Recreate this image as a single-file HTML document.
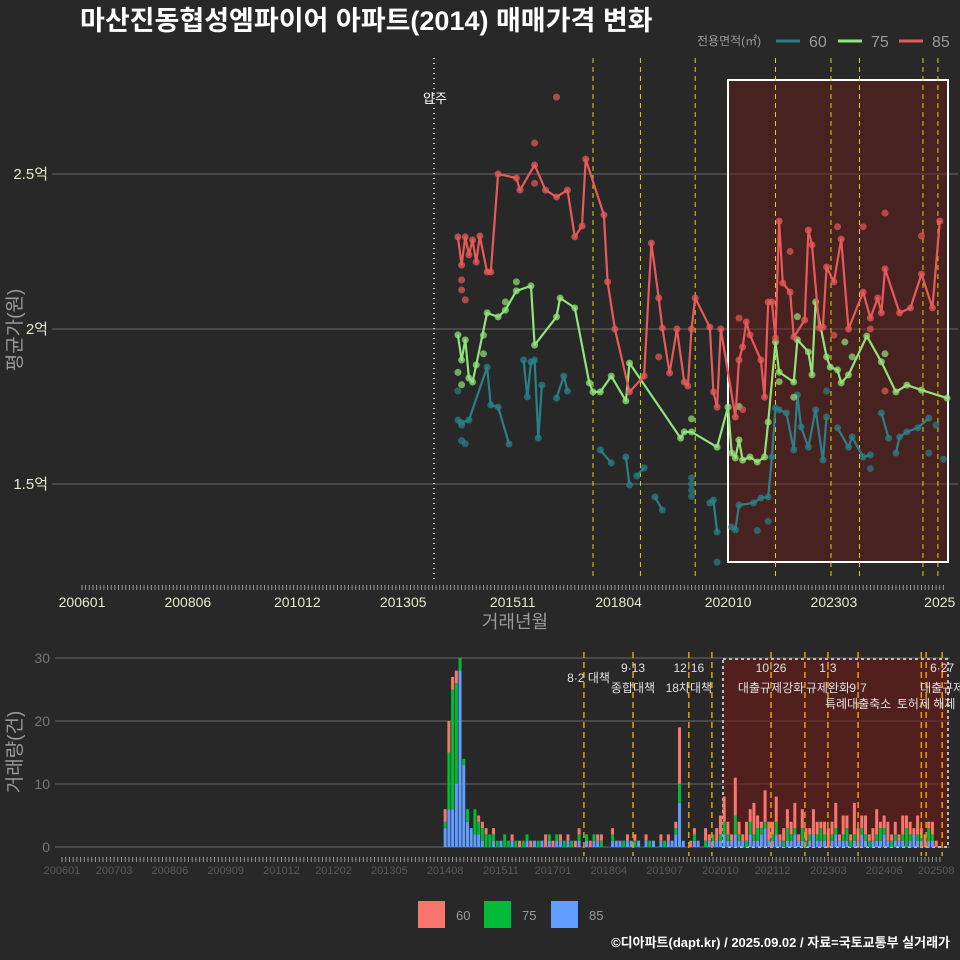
<!DOCTYPE html>
<html><head><meta charset="utf-8">
<style>
html,body{margin:0;padding:0;background:#282828;}
svg{display:block;font-family:"Liberation Sans","Noto Sans CJK KR",sans-serif;}
</style></head>
<body>
<svg id="chart" width="960" height="960" viewBox="0 0 960 960" xmlns="http://www.w3.org/2000/svg">
<rect x="0" y="0" width="960" height="960" fill="#282828"/>
<text x="80" y="30" fill="#ffffff" font-size="27" font-weight="bold">마산진동협성엠파이어 아파트(2014) 매매가격 변화</text>
<g>
<text x="697" y="45" fill="#9a9a9a" font-size="12">전용면적(㎡)</text>
<line x1="776" y1="41" x2="800" y2="41" stroke="#2a8088" stroke-width="3"/>
<text x="809" y="47" fill="#9a9a9a" font-size="16">60</text>
<line x1="838" y1="41" x2="862" y2="41" stroke="#90e47a" stroke-width="3"/>
<text x="871" y="47" fill="#9a9a9a" font-size="16">75</text>
<line x1="899" y1="41" x2="923" y2="41" stroke="#e85a5a" stroke-width="3"/>
<text x="932" y="47" fill="#9a9a9a" font-size="16">85</text>
</g>
<g id="topPanel"></g>
<g id="botPanel"></g>
<g>
<rect x="418" y="901" width="27" height="27" fill="#F8766D"/>
<text x="456" y="920" fill="#9a9a9a" font-size="13">60</text>
<rect x="484" y="901" width="27" height="27" fill="#00BA38"/>
<text x="522" y="920" fill="#9a9a9a" font-size="13">75</text>
<rect x="551" y="901" width="27" height="27" fill="#619CFF"/>
<text x="589" y="920" fill="#9a9a9a" font-size="13">85</text>
</g>
<text x="950" y="947" text-anchor="end" fill="#ffffff" font-size="13" font-weight="bold">©디아파트(dapt.kr) / 2025.09.02 / 자료=국토교통부 실거래가</text>
</svg>
<script>
// months are indices since 2006-01
const topTickMonths = [0,29,59,88,118,147,177,206,235];
const topTickLabels = ["200601","200806","201012","201305","201511","201804","202010","202303","2025"];
const botTickMonths = [0,14,29,44,59,73,88,103,118,132,147,162,177,191,206,221,235];
const botTickLabels = ["200601","200703","200806","200909","201012","201202","201305","201408","201511","201701","201804","201907","202010","202112","202303","202406","202508"];
const priceTicks = [1.5,2,2.5];
const priceTickLabels = ["1.5억","2억","2.5억"];
const volTicks = [0,10,20,30];

const m85 = [103,104,105,106,107,108,109,111,112,114,119,120,124,127,130,133,135,137,138,143,144,146,150,154,156,158,159,161,163,165,166,167,168,172,173,174,175,179,180,181,182,183,186,187,188,189,190,191,192,194,195,198,199,200,202,203,204,206,208,210,214,216,218,219,220,224,227,230,233,235];
const v85 = [2.297,2.206,2.297,2.239,2.287,2.216,2.30,2.184,2.184,2.50,2.487,2.448,2.529,2.448,2.426,2.448,2.297,2.332,2.548,2.368,2.152,2.0,1.797,1.848,2.277,2.10,2.003,1.858,2.0,1.829,1.816,2.0,2.10,2.006,1.797,1.748,2.0,1.716,1.90,1.942,2.023,1.981,1.90,1.78,2.087,2.087,1.971,2.348,2.148,2.119,1.974,2.029,2.319,2.271,2.003,2.006,2.20,2.152,2.29,2.0,2.119,2.035,2.10,2.052,2.194,2.052,2.068,2.177,2.068,2.348];
const m85extra = [130,124,124,104,104,105,158,220,214,207,194,180,181,206,216,230,220];
const v85extra = [2.748,2.60,2.47,2.158,2.126,2.094,1.91,2.374,2.33,2.33,2.25,2.035,1.74,1.98,2.0,2.30,1.80];

const m75 = [103,104,105,106,107,108,111,114,116,119,123,124,130,131,135,139,140,142,145,149,150,164,165,167,174,177,178,179,180,181,183,185,187,188,190,191,195,196,199,200,201,204,205,207,208,210,215,219,223,226,230,237];
const v75 = [1.981,1.90,1.965,1.842,1.829,1.884,2.052,2.039,2.061,2.123,2.139,1.948,2.039,2.10,2.068,1.826,1.797,1.797,1.848,1.768,1.89,1.648,1.668,1.668,1.619,1.748,1.60,1.584,1.642,1.577,1.587,1.571,1.587,1.70,1.958,1.861,1.829,1.965,1.926,1.852,2.087,1.91,1.877,1.868,1.826,1.852,1.977,1.894,1.797,1.819,1.803,1.777];
const m75extra = [119,116,110,110,104,103,196,209,211,220,167,180,195,191];
const v75extra = [2.152,2.087,1.98,1.92,1.82,1.86,2.04,1.958,1.91,1.92,1.71,1.75,1.78,1.83];

// null separates line segments
const m60 = [103,104,106,111,112,114,117,null,121,122,123,124,125,126,null,130,132,133,null,142,145,null,149,150,null,152,154,null,157,159,null,172,173,174,null,178,179,180,184,186,188,189,190,191,193,195,196,197,199,201,203,204,null,207,210,211,214,216,null,219,221,null,223,224,226,229,232];
const v60 = [1.706,1.697,1.706,1.877,1.755,1.748,1.629,null,1.90,1.781,1.894,1.90,1.648,1.819,null,1.777,1.848,1.80,null,1.61,1.568,null,1.587,1.497,null,1.526,1.552,null,1.458,1.416,null,1.439,1.448,1.345,null,1.361,1.352,1.432,1.439,1.455,1.458,1.587,1.745,1.739,1.729,1.61,1.787,1.684,1.619,1.739,1.577,1.716,null,1.681,1.619,1.652,1.587,1.594,null,1.729,1.648,null,1.60,1.652,1.668,1.681,1.713];
const m60extra = [167,167,167,167,174,103,104,104,105,232,234,236,204,216,188,185];
const v60extra = [1.52,1.50,1.48,1.46,1.248,1.80,1.69,1.64,1.63,1.60,1.69,1.58,1.80,1.55,1.38,1.35];

const volStart = 103;
const vol85 = [3,6,6,10,28,13,4,3,2,2,1,0,0,1,0,1,0, 0,1,0,0,0,1,0,1,0,1,0,1,0,1,1,0, 1,0,0,1,0,1,0,1,1,0,0,0,1,1,1, 0,1,1,0,1,0,1,0,1,0,1,0,1,1,2, 7, 1,0,0,1,1,0,0,1,1,1,
1,2,1,1,2,1,1,0,2,1, 1,2,3,1,1,2,1,0,1,1, 2,1,1,0,1,2,1,1,1,0, 1,2,1,1,1,0,1,1,2,1, 0,1,1,1,2,1,0,1,1,1, 0,1,2,1,1,0,1,1,0];
const vol75 = [1,9,19,16,2,1,2,0,4,2,2,2,2,1,1,0,2, 1,0,1,0,1,1,0,0,1,0,0,1,0,1,0,1, 0,1,0,1,0,1,0,1,0,1,0,0,1,0,0, 1,0,0,1,0,0,0,1,0,0,0,1,0,0,1, 3, 0,0,0,1,0,0,1,0,1,0,
1,2,1,0,3,1,0,1,2,1, 2,1,1,0,1,2,0,1,2,1, 1,0,2,1,1,0,1,2,1,0, 1,1,0,1,2,1,1,0,1,1, 1,0,1,2,1,0,1,1,0,1, 3,1,0,1,1,0,2,1,0];
const vol60 = [2,5,2,2,0,0,0,0,0,1,1,1,0,1,0,0,0, 0,1,0,1,0,0,1,0,0,0,2,0,1,0,1,0, 1,0,1,1,0,0,1,0,1,1,0,0,1,0,0, 0,1,0,1,0,0,1,0,0,0,1,0,1,0,1, 9, 0,0,1,1,0,0,2,1,0,2,
3,4,2,1,6,2,1,3,2,5, 2,1,5,3,2,4,1,2,3,2, 4,1,3,2,1,4,2,1,2,3, 2,4,1,3,2,1,5,2,2,3, 1,2,4,1,2,3,1,2,1,3, 2,2,1,3,1,2,1,2,1];

const topEvents = [140,153,168,190,205.2,213,230.4,234.5];
const botEvents = [140.3,153.5,168.5,174.7,190.6,199.7,205.9,214,231,232.3,236.6];
const eventMonths = [140.3,153.5,153.5,168.5,168.5,190.6,190.6,205.9,205.9,214,214,232.3,236.6,236.6];
const eventRows = [1,0,1,0,1,0,1,0,1,1,2,2,0,1];
const eventTexts = ["8·2 대책","9·13","종합대책","12·16","18차대책","10·26","대출규제강화","1·3","규제완화","9·7","특례대출축소","토허제 해제","6·27","대출규제"];

const NS="http://www.w3.org/2000/svg";
function mk(parent,tag,attrs,txt){const e=document.createElementNS(NS,tag);for(const k in attrs)e.setAttribute(k,attrs[k]);if(txt!==undefined)e.textContent=txt;parent.appendChild(e);return e;}
const xT = m => 82 + m*3.65;
const yT = v => 329 - (v-2)*310;
const xB = m => 62 + m*3.72;
const yB = c => 847 - c*6.3;

const topG=document.getElementById('topPanel');
priceTicks.forEach((p,i)=>{
 const g=mk(topG,'line',{x1:52,x2:958,y1:yT(p),y2:yT(p),stroke:'#6a6a6a','stroke-width':1});
 
 
 const t=mk(topG,'text',{x:48,y:yT(p)+5,'text-anchor':'end',fill:'#e8e8c8','font-size':15},priceTickLabels[i]);
 
 
});
const box=mk(topG,'rect',{x:728,y:80,width:220,height:482,fill:'rgba(110,25,25,0.45)',stroke:'#ffffff','stroke-width':2});


const ml=mk(topG,'line',{x1:434,x2:434,y1:58,y2:580,stroke:'#cccccc','stroke-width':2,'stroke-dasharray':'1 4'});


const mlt=mk(topG,'text',{x:435,y:103,'text-anchor':'middle',fill:'#ffffff','font-size':13},'압주');


topEvents.forEach(m=>{
 const l=mk(topG,'line',{x1:xT(m),x2:xT(m),y1:58,y2:580,stroke:'#d8d800','stroke-width':1,'stroke-dasharray':'5 4'});
 
 
});
for(let m=0;m<=236;m++){
 const k=mk(topG,'line',{x1:xT(m),x2:xT(m),y1:585,y2:590,stroke:'#9a9a9a','stroke-width':1});
 
 
}
topTickMonths.forEach((m,i)=>{
 const t=mk(topG,'text',{x:xT(m),y:607,'text-anchor':'middle',fill:'#e8e8c8','font-size':14},topTickLabels[i]);
 
 
});
const xt=mk(topG,'text',{x:515,y:628,'text-anchor':'middle',fill:'#9a9a9a','font-size':18},'거래년월');


const yt=mk(topG,'text',{x:0,y:0,transform:'translate(21,330) rotate(-90)','text-anchor':'middle',fill:'#9a9a9a','font-size':19},'평균가(원)');



function series(ms,vs,xm,ym,color,name){
 const g=mk(topG,'g',{});
 
 
 let d='',pen=false;
 ms.forEach((m,i)=>{ if(m===null){pen=false;return;} d+=(pen?'L':'M')+xT(m).toFixed(1)+','+yT(vs[i]).toFixed(1); pen=true;});
 const p=mk(g,'path',{d:d,fill:'none',stroke:color,'stroke-width':2.2,'stroke-linejoin':'round'});
 
 
 ms.forEach((m,i)=>{ if(m===null)return;
  const c=mk(g,'circle',{cx:xT(m),cy:yT(vs[i]),r:3.5,fill:color,'fill-opacity':0.75});
  
  
 });
 xm.forEach((m,i)=>{
  const c=mk(g,'circle',{cx:xT(m),cy:yT(ym[i]),r:3.5,fill:color,'fill-opacity':0.7});
  
  
 });
}
series(m60,v60,m60extra,v60extra,'#2a8088','area-60');
series(m75,v75,m75extra,v75extra,'#90e47a','area-75');
series(m85,v85,m85extra,v85extra,'#e85a5a','area-85');

const botG=document.getElementById('botPanel');
volTicks.forEach(c=>{
 const g=mk(botG,'line',{x1:55,x2:950,y1:yB(c),y2:yB(c),stroke:'#6a6a6a','stroke-width':1});
 
 
 const t=mk(botG,'text',{x:50,y:yB(c)+5,'text-anchor':'end',fill:'#777777','font-size':14},String(c));
 
 
});
const bbox=mk(botG,'rect',{x:723,y:659,width:225,height:188,fill:'rgba(110,25,25,0.6)',stroke:'#bbbbbb','stroke-width':2,'stroke-dasharray':'3 3'});


vol85.forEach((b,i)=>{
 const m=volStart+i, x=xB(m)-1.5;
 const g=vol75[i]||0, r=vol60[i]||0;
 if(b>0){const e=mk(botG,'rect',{x:x,y:yB(b),width:3,height:b*6.3,fill:'#619CFF'});
  
  }
 if(g>0){const e=mk(botG,'rect',{x:x,y:yB(b+g),width:3,height:g*6.3,fill:'#00BA38'});
  
  }
 if(r>0){const e=mk(botG,'rect',{x:x,y:yB(b+g+r),width:3,height:r*6.3,fill:'#F8766D'});
  
  }
});
botEvents.forEach(m=>{
 const l=mk(botG,'line',{x1:xB(m),x2:xB(m),y1:652,y2:856,stroke:'#e8a000','stroke-width':1.5,'stroke-dasharray':'6 4'});
 
 
});
const rowY=[672,692,708];
eventTexts.forEach((txt,i)=>{
 const end = i===0;
 const t=mk(botG,'text',{x:xB(eventMonths[i])+(end?26:0),y:end?682:rowY[eventRows[i]],'text-anchor':end?'end':'middle',fill:'#e0e0e0','font-size':12},txt);
 
 
});
for(let m=0;m<=236;m++){
 const k=mk(botG,'line',{x1:xB(m),x2:xB(m),y1:857,y2:862,stroke:'#9a9a9a','stroke-width':1});
 
 
}
botTickMonths.forEach((m,i)=>{
 const t=mk(botG,'text',{x:xB(m),y:874,'text-anchor':'middle',fill:'#5a5a5a','font-size':11},botTickLabels[i]);
 
 
});
const vt=mk(botG,'text',{x:0,y:0,transform:'translate(21,752) rotate(-90)','text-anchor':'middle',fill:'#9a9a9a','font-size':19},'거래량(건)');


</script>
</body></html>
